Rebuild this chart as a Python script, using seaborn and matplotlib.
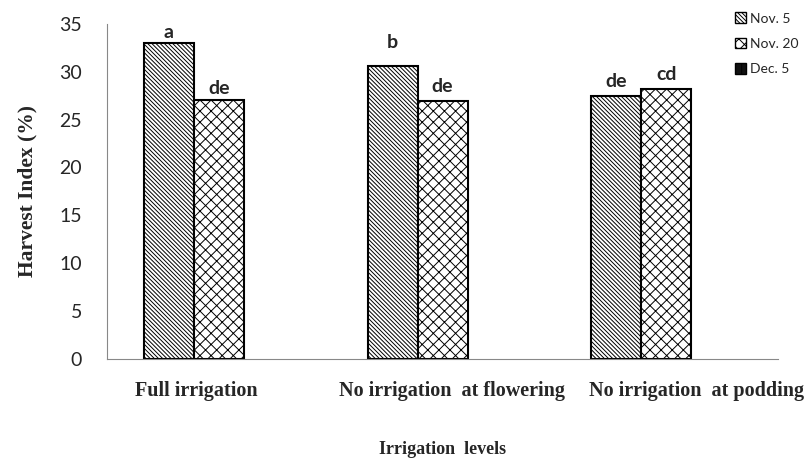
import numpy as np
import pandas as pd
import matplotlib
matplotlib.use("Agg")
import matplotlib.pyplot as plt
import matplotlib.transforms as mtransforms
from matplotlib.patches import Patch
import seaborn as sns

levels = ["Full irrigation", "No irrigation  at flowering", "No irrigation  at podding"]
dates = ["Nov. 5", "Nov. 20", "Dec. 5"]
nov5 = [33.0, 30.6, 27.5]
nov20 = [27.0, 26.9, 28.2]
dec5 = [np.nan, np.nan, np.nan]
letters_nov5 = ["a", "b", "de"]
letters_nov20 = ["de", "de", "cd"]

df = pd.DataFrame({
    "level": levels * 3,
    "date": [d for d in dates for _ in levels],
    "hi": nov5 + nov20 + dec5,
})

sns.set_style("white")
plt.rcParams["hatch.linewidth"] = 0.7

fig = plt.figure(figsize=(8.06, 4.59), dpi=100)
ax = fig.add_axes([0.1328, 0.218, 0.8325, 0.730])

hatches = ["\\\\\\\\\\\\\\\\", "xxx", "+"]
sns.barplot(data=df, x="level", y="hi", hue="date", hue_order=dates,
            width=0.67, gap=0, palette=["white"] * 3, edgecolor="black",
            linewidth=1.5, legend=False, ax=ax, errorbar=None)
for cont, h in zip(ax.containers, hatches):
    for bar in cont:
        bar.set_hatch(h)

# significance letters (pixel offsets above each bar, as in the original)
pads = [[2, 15, 6], [3, 6, 6]]
for cont, labs, pd_ in zip(ax.containers[:2], [letters_nov5, letters_nov20], pads):
    for bar, lab, p in zip(cont, labs, pd_):
        ax.annotate(lab, (bar.get_x() + bar.get_width() / 2, bar.get_height()),
                    xytext=(0, p), textcoords="offset pixels", ha="center", va="bottom",
                    fontsize=14, fontweight="bold", family="Lato")

ax.set_ylim(0, 35)
ax.set_yticks(range(0, 36, 5))
ax.set_xlim(-0.5, 2.5)
ax.set_xticks(range(3))
ax.set_xticks([-0.5, 0.5, 1.5, 2.5], minor=True)
ax.tick_params(axis="x", which="major", length=0, pad=16)
ax.tick_params(axis="x", which="minor", length=6, color="#888888", direction="out", width=0.8)
ax.tick_params(axis="y", length=5, color="#888888", direction="out", width=0.8, pad=13)
ax.set_xticklabels(levels, family="Liberation Serif", fontweight="bold", fontsize=14.5)
for lab in ax.get_yticklabels():
    lab.set_family("Lato")
    lab.set_fontsize(14)
shifts = [-23, 9, 30]
for lab, s in zip(ax.get_xticklabels(), shifts):
    lab.set_transform(lab.get_transform() + mtransforms.Affine2D().translate(s, 0))
ax.set_xlabel("Irrigation  levels", family="Liberation Serif", fontweight="bold",
              fontsize=13, labelpad=29)
ax.set_ylabel("Harvest Index (%)", family="Liberation Serif", fontweight="bold",
              fontsize=15.5, labelpad=16)
sns.despine(ax=ax)
for s in ["left", "bottom"]:
    ax.spines[s].set_color("#888888")
    ax.spines[s].set_linewidth(0.8)

handles = [Patch(facecolor="white", edgecolor="black", hatch=hatches[0]),
           Patch(facecolor="white", edgecolor="black", hatch=hatches[1]),
           Patch(facecolor="#111111", edgecolor="black", hatch=hatches[2])]
fig.legend(handles, dates, loc="upper left", bbox_to_anchor=(0.907, 0.982),
           frameon=False, prop={"family": "Lato", "size": 10},
           handlelength=0.8, handleheight=0.8, handletextpad=0.3, labelspacing=0.95,
           borderaxespad=0, borderpad=0.3)

fig.savefig("out.png", dpi=100)
